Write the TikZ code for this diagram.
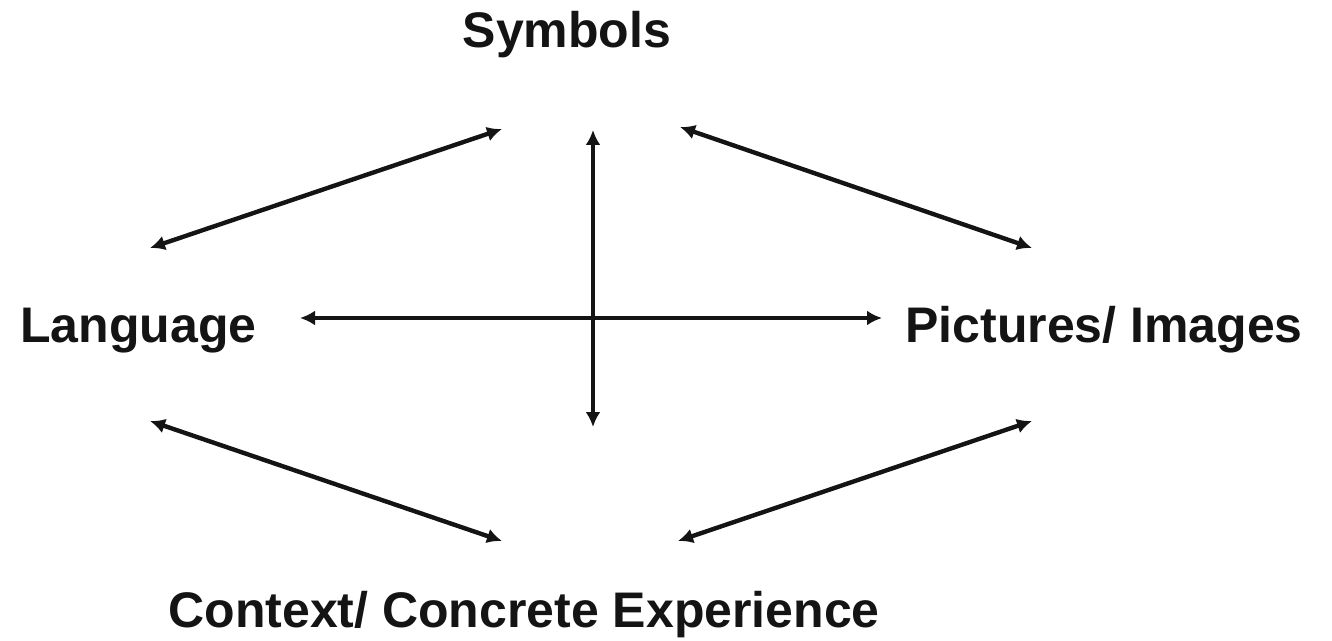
\documentclass[tikz,border=0pt]{standalone}
\usepackage{fontspec}
\setmainfont{Liberation Sans}
\usetikzlibrary{arrows.meta}
\begin{document}
\begin{tikzpicture}[x=0.5pt,y=-0.5pt,
  label/.style={font=\fontsize{25}{30}\selectfont\bfseries, inner sep=0pt, text=black!92},
  link/.style={{Latex[length=7.5pt,width=7.5pt]}-{Latex[length=7.5pt,width=7.5pt]}, line width=2.2pt, draw=black!92}]
  \useasboundingbox (0,0) rectangle (1332,641);

  % the four terms
  \node[label, anchor=base]      (sym) at (567,48)  {Symbols};
  \node[label, anchor=base west] (lan) at (20,343)  {Language};
  \node[label, anchor=base west] (pic) at (905,343) {Pictures/ Images};
  \node[label, anchor=base west] (con) at (168,627) {Context/ Concrete Experience};

  % arrow end points
  \coordinate (symL) at (502,129);
  \coordinate (lanU) at (150,248);
  \coordinate (symR) at (680,127);
  \coordinate (picU) at (1032,248);
  \coordinate (lanD) at (150,421);
  \coordinate (conL) at (502,541);
  \coordinate (picD) at (1032,421);
  \coordinate (conR) at (678,541);
  \coordinate (hL) at (300,318);
  \coordinate (hR) at (882,318);
  \coordinate (vT) at (593,130);
  \coordinate (vB) at (593,427);

  % connectors
  \draw[link] (lanU) -- (symL);
  \draw[link] (symR) -- (picU);
  \draw[link] (lanD) -- (conL);
  \draw[link] (conR) -- (picD);
  \draw[link] (hL) -- (hR);
  \draw[link] (vT) -- (vB);
\end{tikzpicture}
\end{document}
